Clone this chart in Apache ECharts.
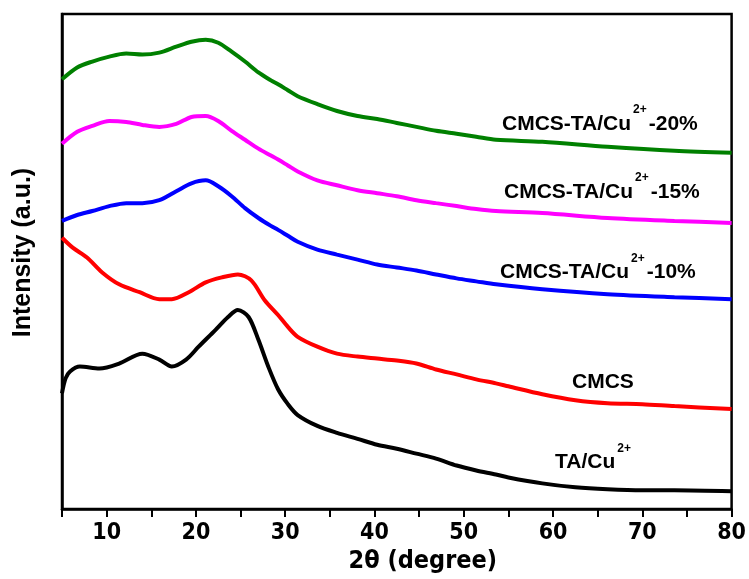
<!DOCTYPE html>
<html>
<head>
<meta charset="utf-8">
<script src="https://cdn.jsdelivr.net/npm/echarts@6/dist/echarts.min.js"></script>
<style>html,body{margin:0;padding:0;background:#fff}#c{width:749px;height:579px}</style>
</head>
<body>
<div id="c"></div>
<script>
// 2θ positions (degree) and intensities (a.u.)
const taCuX = [5.0, 5.4, 5.9, 7.0, 9.2, 11.4, 14.0, 15.9, 17.3, 18.9, 20.3, 22.2, 23.6, 24.7, 25.9, 27.0, 28.1, 29.2, 30.3, 31.4, 33.6, 35.8, 38.1, 40.3, 42.5, 44.7, 46.9, 49.2, 51.4, 53.6, 55.0, 58.8, 62.5, 66.1, 70.0, 73.6, 80.0];
const taCuY = [117, 132, 139, 144, 142, 147, 157, 151, 144, 151, 164, 181, 194, 201, 194, 171, 144, 121, 106, 95, 84, 77, 71, 65, 61, 56, 51, 44, 39, 35, 32, 26, 22, 20, 19, 19, 18];

const cmcsX = [5.0, 6.2, 7.8, 9.5, 11.4, 13.7, 15.9, 17.3, 19.2, 21.1, 22.9, 24.7, 26.2, 27.7, 29.2, 30.3, 31.4, 33.6, 35.8, 38.1, 40.3, 42.5, 44.7, 46.9, 49.2, 51.4, 53.6, 55.0, 58.8, 62.5, 66.1, 70.0, 73.6, 80.0];
const cmcsY = [274, 264, 254, 239, 227, 219, 212, 212, 219, 229, 234, 237, 231, 211, 196, 184, 174, 164, 157, 154, 152, 150, 147, 141, 136, 131, 127, 124, 116, 110, 107, 106, 104, 101];

const compX = [5.0, 6.7, 8.4, 10.3, 12.2, 14.0, 15.9, 17.8, 19.5, 21.1, 22.5, 24.0, 25.5, 27.0, 28.4, 29.2, 30.3, 31.4, 33.6, 35.8, 38.1, 40.3, 42.5, 44.7, 46.9, 49.2, 51.4, 53.6, 58.8, 66.1, 73.6, 80.0];
const cu10Y = [291, 297, 301, 306, 309, 309, 312, 321, 329, 332, 326, 316, 304, 294, 286, 282, 276, 270, 262, 257, 252, 247, 244, 241, 237, 233, 230, 227, 222, 217, 214, 212];
const cu15Y = [369, 381, 387, 392, 391, 388, 386, 389, 396, 397, 392, 382, 373, 364, 357, 353, 347, 341, 332, 327, 322, 319, 316, 312, 309, 306, 303, 301, 299, 294, 291, 289];
const cu20Y = [434, 446, 452, 457, 460, 459, 461, 467, 472, 474, 471, 462, 452, 441, 433, 429, 423, 417, 409, 402, 397, 394, 390, 386, 382, 379, 376, 373, 371, 366, 362, 360];

const xTicks = [10, 20, 30, 40, 50, 60, 70, 80];

function pairs(xs, ys) { return xs.map((x, i) => [x, ys[i]]); }

const chart = echarts.init(document.getElementById('c'));
const narrow = '"Liberation Sans Narrow", "Arial Narrow", "DejaVu Sans Condensed", "Liberation Sans", sans-serif';
const sans = '"Liberation Sans", Arial, sans-serif';

function lineSeries(name, data, color) {
  return {
    name: name, type: 'line', data: data, showSymbol: false, symbol: 'none',
    smooth: 0.3, lineStyle: { color: color, width: 4 }, animation: false, z: 3
  };
}

const richStyle = {
  m: { fontFamily: sans, fontWeight: 'bold', fontSize: 21, lineHeight: 40, fill: '#000' },
  s: { fontFamily: sans, fontWeight: 'bold', fontSize: 12, lineHeight: 15, verticalAlign: 'top', fill: '#000', padding: [0, 2, 0, 2] }
};
function label(x, y, text) {
  return { type: 'text', x: x, y: y, z: 10,
    style: { text: text, rich: richStyle, textAlign: 'left', textVerticalAlign: 'middle', fill: '#000' } };
}

chart.setOption({
  backgroundColor: '#fff',
  animation: false,
  grid: { left: 62, right: 11, top: 14, bottom: 65, show: true, borderColor: '#000', borderWidth: 2.5, backgroundColor: 'transparent' },
  xAxis: {
    type: 'value', min: 5, max: 80, interval: 5,
    name: '2θ (degree)', nameLocation: 'middle', nameGap: 38,
    nameTextStyle: { fontFamily: narrow, fontWeight: 'bold', fontSize: 25, color: '#000', padding: [0, 0, 0, 52] },
    axisLine: { show: true, lineStyle: { color: '#000', width: 2.5 } },
    axisTick: { show: true, inside: false, length: 8, lineStyle: { color: '#000', width: 2 } },
    axisLabel: { show: true, margin: 12, fontFamily: narrow, fontWeight: 'bold', fontSize: 23, color: '#000',
      formatter: v => (xTicks.indexOf(v) >= 0 ? String(v) : '') },
    splitLine: { show: false }
  },
  yAxis: {
    type: 'value', min: 0, max: 500,
    name: 'Intensity (a.u.)', nameLocation: 'middle', nameGap: 26, nameRotate: 90,
    nameTextStyle: { fontFamily: sans, fontWeight: 'bold', fontSize: 25, color: '#000', padding: [0, 0, 0, 18] },
    axisLine: { show: true, lineStyle: { color: '#000', width: 2.5 } },
    axisTick: { show: false }, axisLabel: { show: false }, splitLine: { show: false }
  },
  series: [
    lineSeries('CMCS-TA/Cu2+-20%', pairs(compX, cu20Y), '#008000'),
    lineSeries('CMCS-TA/Cu2+-15%', pairs(compX, cu15Y), '#ff00ff'),
    lineSeries('CMCS-TA/Cu2+-10%', pairs(compX, cu10Y), '#0000ff'),
    lineSeries('CMCS', pairs(cmcsX, cmcsY), '#ff0000'),
    lineSeries('TA/Cu2+', pairs(taCuX, taCuY), '#000000')
  ],
  graphic: [
    label(502, 124, '{m|CMCS-TA/Cu}{s|2+}{m|-20%}'),
    label(504, 192, '{m|CMCS-TA/Cu}{s|2+}{m|-15%}'),
    label(500, 272.5, '{m|CMCS-TA/Cu}{s|2+}{m|-10%}'),
    label(572, 382, '{m|CMCS}'),
    label(555, 462.5, '{m|TA/Cu}{s|2+}')
  ]
});
</script>
</body>
</html>
